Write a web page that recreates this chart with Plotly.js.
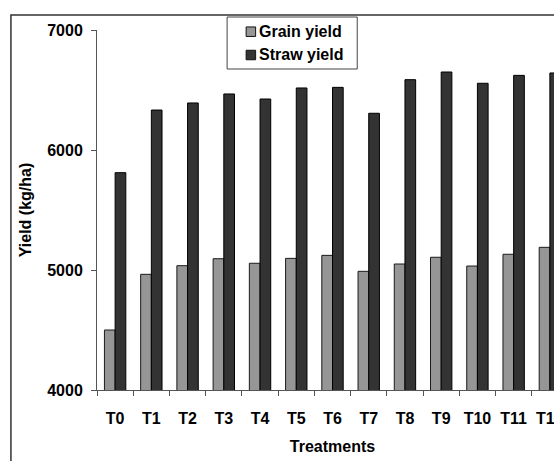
<!DOCTYPE html>
<html>
<head>
<meta charset="utf-8">
<script src="https://cdn.plot.ly/plotly-3.0.1.min.js"></script>
<style>
html, body { margin: 0; padding: 0; overflow: hidden; background: #fff; }
#chart { width: 590px; height: 461px; }
</style>
</head>
<body>
<div id="chart"></div>
<script>
const treatments = ["T0","T1","T2","T3","T4","T5","T6","T7","T8","T9","T10","T11","T12"];
const grainYield = [4500, 4964, 5036, 5094, 5056, 5097, 5122, 4989, 5050, 5106, 5033, 5131, 5189];
const strawYield = [5811, 6333, 6392, 6467, 6425, 6517, 6522, 6306, 6586, 6650, 6556, 6622, 6642];
const yTicks = [4000, 5000, 6000, 7000];
const seriesNames = ["Grain yield", "Straw yield"];
const seriesColors = ["#969696", "#333333"];
const seriesEdges = ["#1a1a1a", "#000000"];

const fam = "Liberation Sans, Arial, sans-serif";
const font = {family: fam, size: 16, color: "#000"};

const traces = [
  {type: "bar", name: seriesNames[0], x: treatments, y: grainYield,
   marker: {color: seriesColors[0], line: {color: seriesEdges[0], width: 1}}},
  {type: "bar", name: seriesNames[1], x: treatments, y: strawYield,
   marker: {color: seriesColors[1], line: {color: seriesEdges[1], width: 1}}}
];

// plot area in pixels: x 97..567.6, y 30..390
const W = 470.6, H = 360, L = 97, T = 30;
const px = v => (v - L) / W;
const py = v => (T + H - v) / H;

const shapes = [
  {type: "rect", xref: "paper", yref: "paper",
   x0: px(11), x1: 1.5, y0: -1, y1: py(15),
   line: {color: "#333", width: 1.5}, fillcolor: "rgba(0,0,0,0)", layer: "below"},
  {type: "rect", xref: "paper", yref: "paper",
   x0: px(227), x1: px(357), y0: py(69), y1: py(17),
   line: {color: "#444", width: 1}, fillcolor: "#fff", layer: "above"}
];
const annotations = [];
const rowY = [31.7, 55];
seriesNames.forEach((n, i) => {
  shapes.push({type: "rect", xref: "paper", yref: "paper",
    x0: px(246), x1: px(255.5), y0: py(rowY[i] + 4.75), y1: py(rowY[i] - 4.75),
    line: {color: "#111", width: 1}, fillcolor: seriesColors[i], layer: "above"});
  annotations.push({xref: "paper", yref: "paper", x: px(257), y: py(rowY[i]),
    xanchor: "left", yanchor: "middle", showarrow: false,
    text: "<b>" + n + "</b>", font: font});
});

const layout = {
  width: 590, height: 461,
  margin: {l: 97, r: 22.4, t: 30, b: 71},
  paper_bgcolor: "#fff", plot_bgcolor: "#fff",
  font: font,
  barmode: "group", bargap: 0.41, bargroupgap: 0,
  showlegend: false,
  xaxis: {
    type: "category",
    showline: true, linecolor: "#555", linewidth: 1,
    ticks: "outside", ticklen: 5, tickcolor: "#555", tickson: "boundaries",
    tickfont: font, tickangle: 0,
    tickvals: treatments,
    ticktext: treatments.map(t => "<b>" + t + "</b>"),
    ticklabelstandoff: 14,
    title: {text: "<b>Treatments</b>", font: font, standoff: 14},
    showgrid: false, zeroline: false, fixedrange: true
  },
  yaxis: {
    range: [4000, 7000],
    tickvals: yTicks,
    ticktext: yTicks.map(v => "<b>" + v + "</b>"),
    tickfont: font,
    ticklabelstandoff: 5,
    showline: true, linecolor: "#555", linewidth: 1,
    ticks: "outside", ticklen: 5, tickcolor: "#555",
    title: {text: "<b>Yield (kg/ha)</b>", font: font, standoff: 11},
    showgrid: false, zeroline: false, fixedrange: true
  },
  shapes: shapes,
  annotations: annotations
};

Plotly.newPlot("chart", traces, layout, {displayModeBar: false, staticPlot: true});
</script>
</body>
</html>
